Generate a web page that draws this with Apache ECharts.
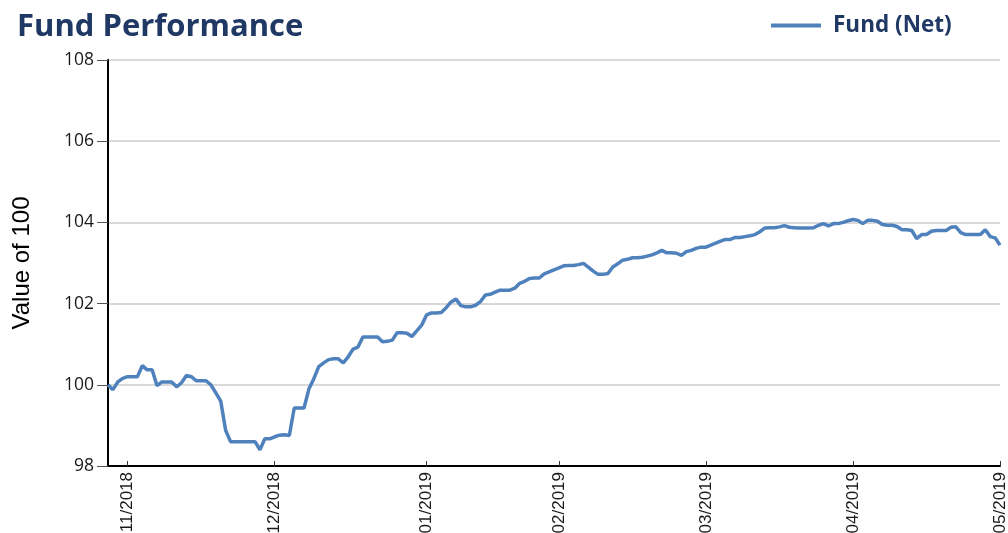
<!DOCTYPE html>
<html>
<head>
<meta charset="utf-8">
<script src="https://cdn.jsdelivr.net/npm/echarts@6/dist/echarts.min.js"></script>
<style>
  html, body { margin: 0; padding: 0; background: #fff; }
  #chart { width: 1008px; height: 533px; }
</style>
</head>
<body>
<div id="chart"></div>
<script>
// fund value per day, rebased to 100
const fundNet = [
  100.0, 99.88, 100.07, 100.16, 100.2, 100.2, 100.2, 100.47, 100.37, 100.37,
  99.98, 100.07, 100.07, 100.07, 99.95, 100.05, 100.23, 100.2, 100.1, 100.1,
  100.1, 100.0, 99.8, 99.6, 98.88, 98.6, 98.6, 98.6, 98.6, 98.6,
  98.6, 98.4, 98.67, 98.67, 98.72, 98.76, 98.77, 98.75, 99.43, 99.43,
  99.43, 99.9, 100.15, 100.45, 100.54, 100.62, 100.64, 100.64, 100.54, 100.69,
  100.88, 100.93, 101.18, 101.18, 101.18, 101.18, 101.06, 101.07, 101.1, 101.28,
  101.28, 101.27, 101.19, 101.33, 101.47, 101.72, 101.77, 101.77, 101.78, 101.9,
  102.04, 102.11, 101.95, 101.92, 101.92, 101.96, 102.05, 102.21, 102.23, 102.28,
  102.33, 102.33, 102.33, 102.38, 102.5, 102.55, 102.62, 102.63, 102.63, 102.73,
  102.78, 102.83, 102.88, 102.93, 102.94, 102.94, 102.96, 102.99, 102.9, 102.8,
  102.72, 102.72, 102.74, 102.9, 102.98, 103.07, 103.09, 103.13, 103.13, 103.14,
  103.17, 103.2, 103.25, 103.31, 103.25, 103.25, 103.24, 103.19, 103.28, 103.31,
  103.36, 103.39, 103.39, 103.44, 103.49, 103.54, 103.58, 103.58, 103.63, 103.63,
  103.65, 103.67, 103.7, 103.77, 103.86, 103.87, 103.87, 103.89, 103.92, 103.88,
  103.87, 103.86, 103.86, 103.86, 103.87, 103.93, 103.97, 103.91, 103.97, 103.97,
  104.0, 104.04, 104.07, 104.05, 103.97, 104.05, 104.05, 104.03, 103.95, 103.93,
  103.93, 103.9, 103.82, 103.82, 103.8, 103.6, 103.7, 103.7, 103.78, 103.8,
  103.8, 103.8, 103.88, 103.89, 103.75, 103.7, 103.7, 103.7, 103.7, 103.82,
  103.65, 103.62, 103.44
];

// month ticks: which point each label sits on
const tickIndex = [4, 34, 65, 92, 122, 152, 182];
const tickLabels = ["11/2018", "12/2018", "01/2019", "02/2019", "03/2019", "04/2019", "05/2019"];

const days = fundNet.map((v, i) => String(i));

const yMin = 98, yMax = 108, yStep = 2;

const navy = "#1f3864";
const lineBlue = "#4f81bd";
const font = "'Open Sans', 'Noto Sans', sans-serif";
const arial = "'Liberation Sans', Arial, sans-serif";

const chart = echarts.init(document.getElementById("chart"));

const isTick = (i) => tickIndex.indexOf(i) >= 0;

const option = {
  backgroundColor: "#fff",
  animation: false,
  title: {
    text: "Fund Performance",
    left: 12,
    top: 7,
    textStyle: { color: navy, fontFamily: font, fontWeight: "bold", fontSize: 31 }
  },
  legend: {
    left: 766,
    top: 9,
    icon: "rect",
    itemWidth: 50,
    itemHeight: 4,
    textStyle: { color: navy, fontFamily: font, fontWeight: "bold", fontSize: 22.5, padding: [0, 0, 0, 7] },
    data: ["Fund (Net)"]
  },
  grid: { left: 108, right: 8, top: 60, bottom: 67, containLabel: false, outerBoundsMode: "none" },
  xAxis: {
    type: "category",
    data: days,
    boundaryGap: false,
    axisLine: { lineStyle: { color: "#000", width: 2 } },
    axisTick: { show: true, inside: true, length: 5, interval: (i) => isTick(i), lineStyle: { color: "#333" } },
    axisLabel: {
      rotate: 90,
      margin: 6,
      interval: (i) => isTick(i),
      formatter: (v, i) => tickLabels[tickIndex.indexOf(i)] || "",
      color: "#1a1a1a",
      fontFamily: arial,
      fontSize: 17
    },
    splitLine: { show: false }
  },
  yAxis: {
    type: "value",
    min: yMin,
    max: yMax,
    interval: yStep,
    name: "Value of 100",
    nameLocation: "middle",
    nameGap: 74,
    nameTextStyle: { color: "#000", fontFamily: arial, fontSize: 24 },
    axisLine: { show: true, lineStyle: { color: "#000", width: 2 } },
    axisTick: { show: true, length: 11, lineStyle: { color: "#555" } },
    axisLabel: { color: "#1a1a1a", fontFamily: font, fontSize: 17.5, margin: 14 },
    splitLine: { lineStyle: { color: "#d9d9d9", width: 2 } }
  },
  series: [{
    name: "Fund (Net)",
    type: "line",
    data: fundNet,
    showSymbol: false,
    symbol: "none",
    lineStyle: { color: lineBlue, width: 3.5 },
    itemStyle: { color: lineBlue }
  }]
};

chart.setOption(option);
window.addEventListener("resize", () => chart.resize());
</script>
</body>
</html>
